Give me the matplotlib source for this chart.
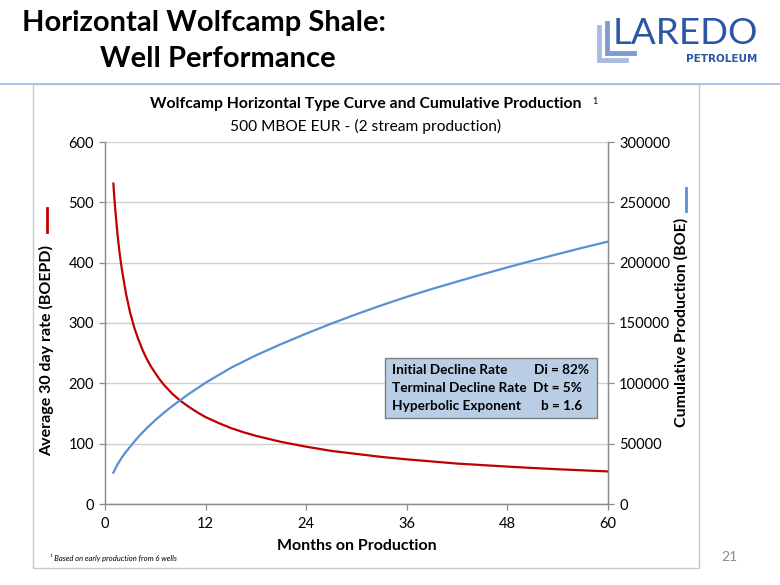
import matplotlib
matplotlib.use("Agg")
import matplotlib.pyplot as plt
from matplotlib.lines import Line2D
from matplotlib.patches import Rectangle

# ---------------- data ----------------
months_rate = [1, 1.1, 1.25, 1.5, 1.75, 2, 2.5, 3, 3.5, 4, 4.5, 5, 5.5, 6, 6.5, 7, 8, 9,
               10, 11, 12, 13.5, 15, 16.5, 18, 19.5, 21, 24, 27, 30, 33, 36, 39, 42, 45,
               48, 51, 54, 57, 60]
rate_boepd = [531, 510, 484, 446, 415, 390, 349, 317, 292, 272, 254.7, 240, 227.5, 217,
              206.8, 198, 183, 171, 161, 152, 144, 134.5, 126, 119, 113, 108, 103, 95,
              88, 83, 78, 74, 70.5, 67, 64.5, 62, 59.7, 57.6, 55.8, 54]

months_cum = [1, 1.25, 1.5, 2, 2.5, 3, 3.5, 4, 5, 6, 7, 8, 9, 10, 12, 15, 18, 21, 24, 27,
              30, 33, 36, 39, 42, 45, 48, 51, 54, 57, 60]
cum_boe = [26000, 29500, 32800, 38500, 43200, 47500, 51700, 55800, 63000, 69500, 75500,
           81000, 86200, 91200, 100500, 112800, 123200, 132500, 141200, 149500, 157300,
           164700, 171700, 178200, 184300, 190300, 196100, 201700, 207100, 212400, 217500]

x_ticks = [0, 12, 24, 36, 48, 60]
left_ticks = [0, 100, 200, 300, 400, 500, 600]
right_ticks = [0, 50000, 100000, 150000, 200000, 250000, 300000]

box_labels = ["Initial Decline Rate", "Terminal Decline Rate", "Hyperbolic Exponent"]
box_values = ["Di = 82%", "Dt = 5%", "b = 1.6"]

# ---------------- figure ----------------
W, H = 780, 585
fig = plt.figure(figsize=(W / 100, H / 100), dpi=100)
FONT = "Lato"


def fx(x):
    return x / W


def fy(y):
    return 1 - y / H


RED = "#c00000"
BLUE = "#5b8fd5"
GRID = "#d0d0d0"
SPINE = "#8c8c8c"

# slide decorations
fig.add_artist(Line2D([0, 1], [fy(84), fy(84)], color="#9dbbe0", lw=1.2))
fig.add_artist(Rectangle((fx(33), fy(568)), fx(699) - fx(33), fy(84) - fy(568),
                         fill=False, edgecolor="#c8c8c8", lw=1.0))

fig.text(fx(204), fy(23), "Horizontal Wolfcamp Shale:", ha="center", va="center",
         fontsize=21, fontweight="bold", family=FONT, color="#000000")
fig.text(fx(218), fy(59), "Well Performance", ha="center", va="center",
         fontsize=21, fontweight="bold", family=FONT, color="#000000")

# logo
LOGO = "#2a56a6"
fig.add_artist(Line2D([fx(599), fx(599), fx(626)], [fy(27), fy(60), fy(60)],
                      color="#a9bde3", lw=3.5, solid_joinstyle="miter"))
fig.add_artist(Line2D([fx(607), fx(607), fx(634)], [fy(23), fy(53), fy(53)],
                      color="#7f9bd4", lw=3.5, solid_joinstyle="miter"))
fig.text(fx(613), fy(34), "LAREDO", ha="left", va="center", fontsize=26.5,
         family=FONT, color=LOGO)
fig.text(fx(757), fy(59), "PETROLEUM", ha="right", va="center", fontsize=7.5,
         fontweight="bold", family="DejaVu Sans", color=LOGO)

# axes
l, r, t, b = 105, 608, 142, 504
ax = fig.add_axes([fx(l), fy(b), fx(r) - fx(l), fy(t) - fy(b)])
ax2 = ax.twinx()

ax.plot(months_rate, rate_boepd, color=RED, lw=1.6, zorder=3)
ax2.plot(months_cum, cum_boe, color=BLUE, lw=1.6, zorder=3)

ax.set_xlim(0, 60)
ax.set_ylim(0, 600)
ax2.set_ylim(0, 300000)
ax.set_xticks(x_ticks)
ax.set_yticks(left_ticks)
ax2.set_yticks(right_ticks)
ax.set_yticklabels([str(v) for v in left_ticks])
ax2.set_yticklabels([str(v) for v in right_ticks])
ax.set_xticklabels([str(v) for v in x_ticks])

ax.grid(axis="y", color=GRID, lw=1.0)
ax.set_axisbelow(True)

for a in (ax, ax2):
    a.spines["top"].set_visible(False)
    for s in ("left", "right", "bottom"):
        a.spines[s].set_color(SPINE)
        a.spines[s].set_linewidth(0.9)
    a.tick_params(colors=SPINE, length=4, width=0.9, labelcolor="#000000",
                  labelsize=10.5, pad=4)
    for lab in a.get_xticklabels() + a.get_yticklabels():
        lab.set_family(FONT)
ax.tick_params(axis="x", pad=5)

# chart titles
fig.text(fx(366), fy(104), "Wolfcamp Horizontal Type Curve and Cumulative Production",
         ha="center", va="center", fontsize=11.3, fontweight="bold", family=FONT)
fig.text(fx(595), fy(101), "1", ha="center", va="center", fontsize=6.5, family=FONT)
fig.text(fx(366), fy(126), "500 MBOE EUR - (2 stream production)",
         ha="center", va="center", fontsize=11.2, family=FONT)

# axis labels
fig.text(fx(47), fy(350), "Average 30 day rate (BOEPD)", rotation=90, ha="center",
         va="center", fontsize=11.5, fontweight="bold", family=FONT)
fig.add_artist(Line2D([fx(47), fx(47)], [fy(208), fy(232)], color=RED, lw=2))
fig.text(fx(681), fy(322), "Cumulative Production (BOE)", rotation=90, ha="center",
         va="center", fontsize=11.5, fontweight="bold", family=FONT)
fig.add_artist(Line2D([fx(686), fx(686)], [fy(188), fy(211)], color=BLUE, lw=2))
fig.text(fx(357), fy(546), "Months on Production", ha="center", va="center",
         fontsize=11.5, fontweight="bold", family=FONT)

# parameter box
fig.add_artist(Rectangle((fx(385), fy(418)), fx(597) - fx(385), fy(358) - fy(418),
                         facecolor="#b9cde5", edgecolor="#7f7f7f", lw=1.0))
rows_y = [370, 388, 406]
vals_x = [589, 582, 582]
for yy, lab, val, vx in zip(rows_y, box_labels, box_values, vals_x):
    fig.text(fx(392), fy(yy), lab, ha="left", va="center", fontsize=9.8,
             fontweight="bold", family=FONT)
    fig.text(fx(vx), fy(yy), val, ha="right", va="center", fontsize=9.8,
             fontweight="bold", family=FONT)

# footnote and page number
fig.text(fx(50), fy(558), "\u00b9 Based on early production from 6 wells", ha="left",
         va="center", fontsize=5.5, style="italic", family=FONT)
fig.text(fx(729), fy(557), "21", ha="center", va="center", fontsize=10,
         family=FONT, color="#8a8a8a")

fig.savefig("out.png", dpi=100)
